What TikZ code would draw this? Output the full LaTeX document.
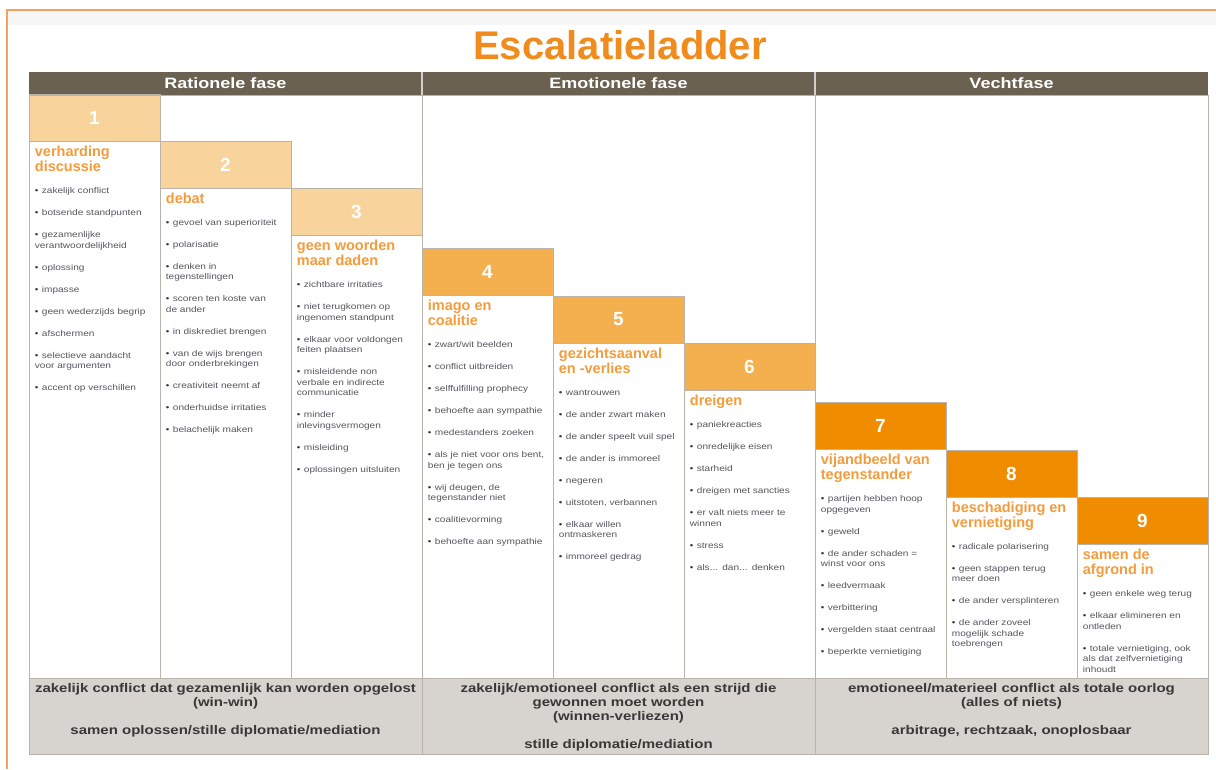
\documentclass[tikz,border=0pt]{standalone}
\usepackage{fontspec}
\setmainfont{Liberation Sans}
\newfontfamily\widesans[FakeStretch=1.2]{Liberation Sans}
\usetikzlibrary{positioning}

\definecolor{rand}{HTML}{F6A25E}
\definecolor{titeloranje}{HTML}{F08C1E}
\definecolor{kopbruin}{HTML}{6B6150}
\definecolor{licht}{HTML}{F8D39B}
\definecolor{middel}{HTML}{F4AF4F}
\definecolor{donker}{HTML}{EF8C00}
\definecolor{stapkop}{HTML}{F39C3C}
\definecolor{tekstgrijs}{HTML}{55555F}
\definecolor{bandgrijs}{HTML}{D7D4CF}
\definecolor{lijn}{HTML}{B9B3A9}

% one bullet item
\newcommand{\punt}[1]{\par\hangindent=7pt\hangafter=1\noindent\makebox[7pt][l]{\textcolor{black!80}{\textbullet}}#1\par\vspace{11.5pt}}

\begin{document}
\begin{tikzpicture}[x=1pt,y=-1pt,
	stepbox/.style={draw=lijn, line width=0.6pt, minimum width=131pt, minimum height=47pt, inner sep=0pt, text=white, font=\bfseries\fontsize{19}{19}\selectfont},
	staptitel/.style={inner sep=0pt, align=left, text depth=0pt, text=stapkop, font=\bfseries\fontsize{14.5}{15}\selectfont},
	punten/.style={inner sep=0pt, text width=125pt, align=left, text=tekstgrijs, font=\widesans\fontsize{8.4}{10.5}\selectfont},
	fasekop/.style={inner sep=0pt, text=white, font=\widesans\bfseries\fontsize{15}{15}\selectfont},
	fasetekst/.style={inner sep=0pt, align=center, text=black!78, font=\widesans\bfseries\fontsize{12.5}{14}\selectfont},
	raster/.style={draw=lijn, line width=0.6pt}]
	
	\useasboundingbox (0,0) rectangle (1216,769);
	\fill[white] (0,0) rectangle (1216,769);
	
	% page frame
	\fill[black!3] (7,10) rectangle (1216,25);
	\draw[rand, line width=1.5pt] (1216,10) -- (7,10) -- (7,769);
	
	% title
	\node[text=titeloranje, font=\bfseries\fontsize{40}{40}\selectfont] (titel) at (620,45) {Escalatieladder};
	
	% phase header
	\fill[kopbruin] (29,72) rectangle (1208,95);
	\draw[white!70!kopbruin, line width=1.2pt] (422,72) -- (422,95);
	\draw[white!70!kopbruin, line width=1.2pt] (815,72) -- (815,95);
	\node[fasekop] (kop1) at (225.5,83.5) {Rationele fase};
	\node[fasekop] (kop2) at (618.5,83.5) {Emotionele fase};
	\node[fasekop] (kop3) at (1011.5,83.5) {Vechtfase};
	
	% bottom band
	\fill[bandgrijs] (29,678) rectangle (1208,754);
	\coordinate (bandtop) at (29,678);
	
	% number boxes
	\node[stepbox, fill=licht] (s1) at (94.5,118) {1};
	\node[stepbox, fill=licht] (s2) at (225.5,164.5) {2};
	\node[stepbox, fill=licht] (s3) at (356.5,212) {3};
	\node[stepbox, fill=middel] (s4) at (487.5,272) {4};
	\node[stepbox, fill=middel] (s5) at (618.5,319.5) {5};
	\node[stepbox, fill=middel] (s6) at (749.5,367) {6};
	\node[stepbox, fill=donker] (s7) at (880.5,426) {7};
	\node[stepbox, fill=donker] (s8) at (1011.5,473.5) {8};
	\node[stepbox, fill=donker] (s9) at (1142.5,521) {9};
	
	% column lines
	\draw[raster] (s1.north east) -- (s1.north east |- bandtop);
	\draw[raster] (s2.north east) -- (s2.north east |- bandtop);
	\draw[raster] (s4.north east) -- (s4.north east |- bandtop);
	\draw[raster] (s5.north east) -- (s5.north east |- bandtop);
	\draw[raster] (s7.north east) -- (s7.north east |- bandtop);
	\draw[raster] (s8.north east) -- (s8.north east |- bandtop);
	\draw[raster] (422,95) -- (422,754);
	\draw[raster] (815,95) -- (815,754);
	\draw[raster] (29,678) -- (1208,678);
	\draw[raster] (29,95) rectangle (1208,754);
	
	% step titles
	\node[staptitel, below right=4pt and 6pt of s1.south west] (t1) {verharding\\discussie};
	\node[staptitel, below right=4pt and 6pt of s2.south west] (t2) {debat};
	\node[staptitel, below right=4pt and 6pt of s3.south west] (t3) {geen woorden\\maar daden};
	\node[staptitel, below right=4pt and 6pt of s4.south west] (t4) {imago en\\coalitie};
	\node[staptitel, below right=4pt and 6pt of s5.south west] (t5) {gezichtsaanval\\en -verlies};
	\node[staptitel, below right=4pt and 6pt of s6.south west] (t6) {dreigen};
	\node[staptitel, below right=4pt and 6pt of s7.south west] (t7) {vijandbeeld van\\tegenstander};
	\node[staptitel, below right=4pt and 6pt of s8.south west] (t8) {beschadiging en\\vernietiging};
	\node[staptitel, below right=4pt and 6pt of s9.south west] (t9) {samen de\\afgrond in};
	
	% bullet lists
	\node[punten, below right=11.5pt and 0pt of t1.south west] (p1) {%
		\punt{zakelijk conflict}\punt{botsende standpunten}\punt{gezamenlijke\\verantwoordelijkheid}%
		\punt{oplossing}\punt{impasse}\punt{geen wederzijds begrip}\punt{afschermen}%
		\punt{selectieve aandacht\\voor argumenten}\punt{accent op verschillen}};
	\node[punten, below right=11.5pt and 0pt of t2.south west] (p2) {%
		\punt{gevoel van superioriteit}\punt{polarisatie}\punt{denken in\\tegenstellingen}%
		\punt{scoren ten koste van\\de ander}\punt{in diskrediet brengen}%
		\punt{van de wijs brengen\\door onderbrekingen}\punt{creativiteit neemt af}%
		\punt{onderhuidse irritaties}\punt{belachelijk maken}};
	\node[punten, below right=11.5pt and 0pt of t3.south west] (p3) {%
		\punt{zichtbare irritaties}\punt{niet terugkomen op\\ingenomen standpunt}%
		\punt{elkaar voor voldongen\\feiten plaatsen}\punt{misleidende non\\verbale en indirecte\\communicatie}%
		\punt{minder\\inlevingsvermogen}\punt{misleiding}\punt{oplossingen uitsluiten}};
	\node[punten, below right=11.5pt and 0pt of t4.south west] (p4) {%
		\punt{zwart/wit beelden}\punt{conflict uitbreiden}\punt{selffulfilling prophecy}%
		\punt{behoefte aan sympathie}\punt{medestanders zoeken}%
		\punt{als je niet voor ons bent,\\ben je tegen ons}\punt{wij deugen, de\\tegenstander niet}%
		\punt{coalitievorming}\punt{behoefte aan sympathie}};
	\node[punten, below right=11.5pt and 0pt of t5.south west] (p5) {%
		\punt{wantrouwen}\punt{de ander zwart maken}\punt{de ander speelt vuil spel}%
		\punt{de ander is immoreel}\punt{negeren}\punt{uitstoten, verbannen}%
		\punt{elkaar willen\\ontmaskeren}\punt{immoreel gedrag}};
	\node[punten, below right=11.5pt and 0pt of t6.south west] (p6) {%
		\punt{paniekreacties}\punt{onredelijke eisen}\punt{starheid}\punt{dreigen met sancties}%
		\punt{er valt niets meer te\\winnen}\punt{stress}\punt{als... dan... denken}};
	\node[punten, below right=11.5pt and 0pt of t7.south west] (p7) {%
		\punt{partijen hebben hoop\\opgegeven}\punt{geweld}\punt{de ander schaden =\\winst voor ons}%
		\punt{leedvermaak}\punt{verbittering}\punt{vergelden staat centraal}\punt{beperkte vernietiging}};
	\node[punten, below right=11.5pt and 0pt of t8.south west] (p8) {%
		\punt{radicale polarisering}\punt{geen stappen terug\\meer doen}%
		\punt{de ander versplinteren}\punt{de ander zoveel\\mogelijk schade\\toebrengen}};
	\node[punten, below right=11.5pt and 0pt of t9.south west] (p9) {%
		\punt{geen enkele weg terug}\punt{elkaar elimineren en\\ontleden}%
		\punt{totale vernietiging, ook\\als dat zelfvernietiging\\inhoudt}};
	
	% phase summaries
	\node[fasetekst, anchor=north] (f1) at (225.5,683) {zakelijk conflict dat gezamenlijk kan worden opgelost\\(win-win)\\[14pt]samen oplossen/stille diplomatie/mediation};
	\node[fasetekst, anchor=north] (f2) at (618.5,683) {zakelijk/emotioneel conflict als een strijd die\\gewonnen moet worden\\(winnen-verliezen)\\[14pt]stille diplomatie/mediation};
	\node[fasetekst, anchor=north] (f3) at (1011.5,683) {emotioneel/materieel conflict als totale oorlog\\(alles of niets)\\[14pt]arbitrage, rechtzaak, onoplosbaar};
	
\end{tikzpicture}
\end{document}
